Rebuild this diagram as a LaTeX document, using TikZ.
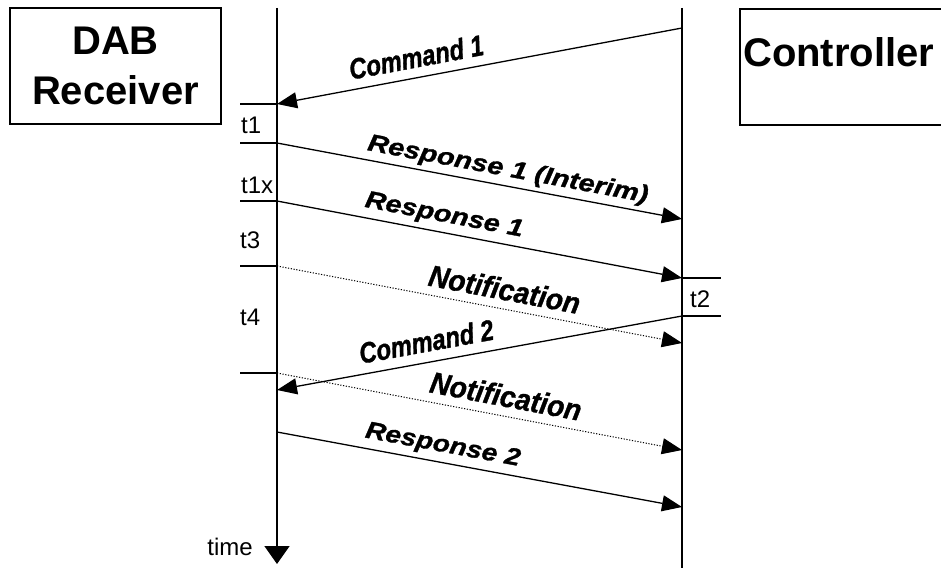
\documentclass[tikz,border=0pt]{standalone}
\usepackage{fontspec}
\setmainfont{Liberation Sans}
\newfontfamily\msgfont[BoldItalicFeatures={FakeBold=1.2}]{Liberation Sans}
\usepackage{graphicx}
\usetikzlibrary{arrows.meta}

\tikzset{
  lifeline/.style={line width=1.6pt},
  msg/.style={line width=1.3pt, -{Triangle[length=20pt,width=16pt]}},
  notemsg/.style={line width=1pt, dash pattern=on 1.2pt off 1.6pt,
                  -{Triangle[length=20pt,width=16pt]}},
  tickline/.style={line width=1.3pt},
  box/.style={draw, line width=2pt, inner sep=0pt},
  boxtext/.style={font=\fontsize{40}{50}\selectfont\bfseries, align=center},
  small/.style={font=\fontsize{24}{27}\selectfont, inner sep=0pt},
  lbl/.style={sloped, inner sep=0pt, text depth=0pt},
  cmdlbl/.style={lbl, font=\fontsize{29}{32}\selectfont\msgfont\bfseries\itshape},
  rsplbl/.style={lbl, font=\fontsize{24}{27}\selectfont\msgfont\bfseries\itshape},
  ntflbl/.style={lbl, font=\fontsize{30}{33}\selectfont\msgfont\bfseries\itshape},
}

\begin{document}
\begin{tikzpicture}[x=1pt,y=-1pt]
\useasboundingbox (0,0) rectangle (941,567);
\clip (0,0) rectangle (941,567);

% the two parties
\node[box, boxtext, minimum width=211pt, minimum height=116pt] (dab) at (115.5,66) {DAB\\Receiver};
\node[box, anchor=north west, minimum width=240pt, minimum height=116pt] (ctrl) at (739,8) {};
\node[boxtext, inner sep=0pt, anchor=base west] (ctrlname) at (743,67) {Controller};

% lifelines
\coordinate (Ltop) at (277,8);
\coordinate (Lend) at (277,564);
\coordinate (Rtop) at (682,8);
\coordinate (Rend) at (682,570);
\draw[lifeline, -{Triangle[length=18pt,width=25pt]}] (Ltop) -- (Lend);
\draw[lifeline] (Rtop) -- (Rend);
\node[small, anchor=base east] (time) at (253,555) {time};

% time marks on the receiver side
\foreach \n/\y in {a/104, b/143, c/201, d/266, e/373} {
  \coordinate (L\n o) at (240,\y);
  \coordinate (L\n) at (277,\y);
  \draw[tickline] (L\n o) -- (L\n);
}
% time marks on the controller side
\foreach \n/\y in {a/278, b/316} {
  \coordinate (R\n) at (682,\y);
  \coordinate (R\n o) at (721,\y);
  \draw[tickline] (R\n) -- (R\n o);
}
\node[small, anchor=base west] (t1) at (241,133) {t1};
\node[small, anchor=base west] (t1x) at (241,193) {t1x};
\node[small, anchor=base west] (t3) at (240,248) {t3};
\node[small, anchor=base west] (t4) at (240,325) {t4};
\node[small, anchor=base west] (t2) at (690,307) {t2};

% message end points
\coordinate (c1s) at (682,28);
\coordinate (r2e) at (682,219);
\coordinate (n1e) at (682,343);
\coordinate (c2e) at (277,390);
\coordinate (n2e) at (682,450);
\coordinate (p2s) at (277,432);
\coordinate (p2e) at (682,507);

% messages
\draw[msg] (c1s) -- node[cmdlbl, pos=0.647, above=9.5pt] {\scalebox{0.82}[1]{Command 1}} (La);
\draw[msg] (Lb) -- node[rsplbl, pos=0.563, above=9pt] {\scalebox{1.2}[1]{Response 1 (Interim)}} (r2e);
\draw[msg] (Lc) -- node[rsplbl, pos=0.405, above=10pt] {\scalebox{1.19}[1]{Response 1}} (Ra);
\draw[notemsg] (Ld) -- node[ntflbl, pos=0.553, above=8.5pt] {\scalebox{0.93}[1]{Notification}} (n1e);
\draw[msg] (Rb) -- node[cmdlbl, pos=0.622, above=10pt] {\scalebox{0.82}[1]{Command 2}} (c2e);
\draw[notemsg] (Le) -- node[ntflbl, pos=0.556, above=9pt] {\scalebox{0.93}[1]{Notification}} (n2e);
\draw[msg] (p2s) -- node[rsplbl, pos=0.402, above=10pt] {\scalebox{1.165}[1]{Response 2}} (p2e);
\end{tikzpicture}
\end{document}
